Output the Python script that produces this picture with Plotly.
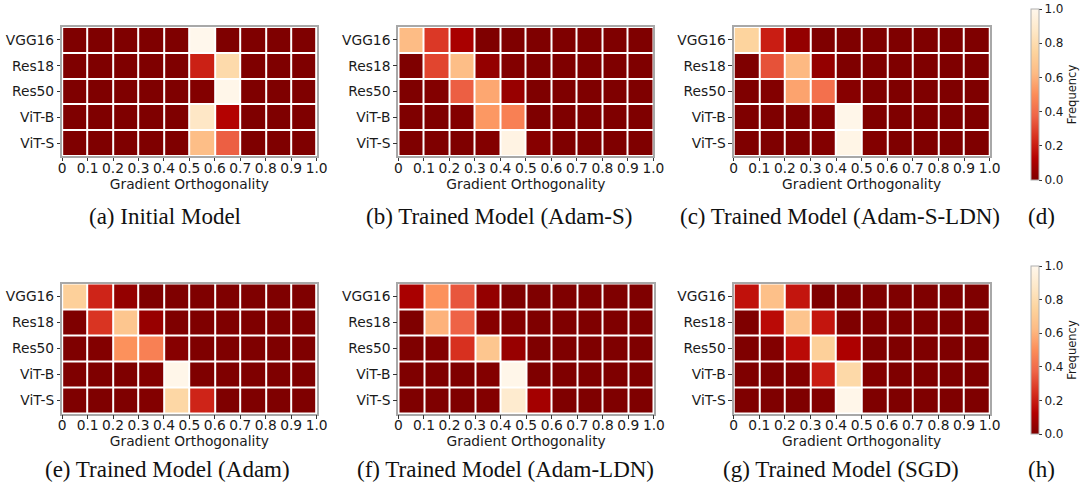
import plotly.graph_objects as go

W, H = 1081, 484

models = ["VGG16", "Res18", "Res50", "ViT-B", "ViT-S"]
bin_centers = [0.05, 0.15, 0.25, 0.35, 0.45, 0.55, 0.65, 0.75, 0.85, 0.95]
xtick_vals = [0, 0.1, 0.2, 0.3, 0.4, 0.5, 0.6, 0.7, 0.8, 0.9, 1.0]
xtick_text = ["0", "0.1", "0.2", "0.3", "0.4", "0.5", "0.6", "0.7", "0.8", "0.9", "1.0"]
cbar_vals = [0, 0.2, 0.4, 0.6, 0.8, 1.0]
cbar_text = ["0.0", "0.2", "0.4", "0.6", "0.8", "1.0"]

initial_model = [
    [0, 0, 0, 0, 0, 1.00, 0, 0, 0, 0],
    [0, 0, 0, 0, 0, 0.21, 0.79, 0, 0, 0],
    [0, 0, 0, 0, 0, 0.01, 0.99, 0, 0, 0],
    [0, 0, 0, 0, 0, 0.87, 0.13, 0, 0, 0],
    [0, 0, 0, 0, 0, 0.64, 0.36, 0, 0, 0],
]
adam_s = [
    [0.63, 0.27, 0.10, 0, 0, 0, 0, 0, 0, 0],
    [0, 0.30, 0.64, 0.05, 0.01, 0, 0, 0, 0, 0],
    [0, 0.01, 0.36, 0.57, 0.06, 0, 0, 0, 0, 0],
    [0, 0, 0.01, 0.53, 0.46, 0, 0, 0, 0, 0],
    [0, 0, 0, 0.01, 0.97, 0.02, 0, 0, 0, 0],
]
adam_s_ldn = [
    [0.75, 0.20, 0.05, 0, 0, 0, 0, 0, 0, 0],
    [0, 0.33, 0.62, 0.05, 0, 0, 0, 0, 0, 0],
    [0, 0.01, 0.56, 0.41, 0.02, 0, 0, 0, 0, 0],
    [0, 0, 0, 0.01, 0.99, 0, 0, 0, 0, 0],
    [0, 0, 0, 0.01, 0.98, 0.01, 0, 0, 0, 0],
]
adam = [
    [0.73, 0.22, 0.05, 0, 0, 0, 0, 0, 0, 0],
    [0, 0.26, 0.68, 0.06, 0, 0, 0, 0, 0, 0],
    [0, 0.01, 0.51, 0.46, 0.02, 0, 0, 0, 0, 0],
    [0, 0, 0, 0.01, 0.99, 0, 0, 0, 0, 0],
    [0, 0, 0, 0.01, 0.77, 0.22, 0, 0, 0, 0],
]
adam_ldn = [
    [0.10, 0.51, 0.34, 0.05, 0, 0, 0, 0, 0, 0],
    [0, 0.60, 0.37, 0.02, 0.01, 0, 0, 0, 0, 0],
    [0, 0.01, 0.25, 0.68, 0.06, 0, 0, 0, 0, 0],
    [0, 0, 0, 0.01, 0.99, 0, 0, 0, 0, 0],
    [0, 0, 0, 0.01, 0.90, 0.09, 0, 0, 0, 0],
]
sgd = [
    [0.17, 0.65, 0.18, 0, 0, 0, 0, 0, 0, 0],
    [0, 0.15, 0.67, 0.18, 0, 0, 0, 0, 0, 0],
    [0, 0.01, 0.15, 0.73, 0.11, 0, 0, 0, 0, 0],
    [0, 0, 0.01, 0.20, 0.78, 0.01, 0, 0, 0, 0],
    [0, 0, 0, 0.01, 0.99, 0, 0, 0, 0, 0],
]

captions = [
    "(a) Initial Model", "(b) Trained Model (Adam-S)", "(c) Trained Model (Adam-S-LDN)", "(d)",
    "(e) Trained Model (Adam)", "(f) Trained Model (Adam-LDN)", "(g) Trained Model (SGD)", "(h)",
]

orrd_r = [
    [0.0, "#7f0000"], [0.125, "#b30000"], [0.25, "#d7301f"], [0.375, "#ef6548"],
    [0.5, "#fc8d59"], [0.625, "#fdbb84"], [0.75, "#fdd49e"], [0.875, "#fee8c8"], [1.0, "#fff7ec"],
]

panels = [initial_model, adam_s, adam_s_ldn, adam, adam_ldn, sgd]

# pixel boxes (left, right, top, bottom)
boxes = [
    (59, 317, 27, 156), (400, 658.5, 27, 156), (740, 999.5, 27, 156),
    (59, 317, 283.5, 413.5), (400, 659, 283.5, 413.5), (740, 999.5, 283.5, 413.5),
]

fig = go.Figure()
tick_font = dict(family="DejaVu Sans", size=13.8, color="#1a1a1a")
for i, (z, box) in enumerate(zip(panels, boxes)):
    n = "" if i == 0 else str(i + 1)
    show = i in (2, 5)
    cb = None
    if show:
        top = 9 if i == 2 else 266
        bot = 180 if i == 2 else 434
        cb = dict(
            x=1041 / W, xanchor="left", xpad=0,
            y=1 - top / H, yanchor="top", len=(bot - top) / H, lenmode="fraction", ypad=0,
            thickness=8, outlinecolor="#b0b0b0", outlinewidth=1,
            tickvals=cbar_vals, ticktext=cbar_text, ticks="outside", ticklen=3,
            tickcolor="#333", tickfont=dict(family="DejaVu Sans", size=12, color="#1a1a1a"),
            title=dict(text="Frequency", side="right",
                       font=dict(family="DejaVu Sans", size=11.5, color="#1a1a1a")),
        )
    fig.add_trace(go.Heatmap(
        z=z, x=bin_centers, y=list(range(len(models))),
        zmin=0, zmax=1, colorscale=orrd_r, xgap=2, ygap=2,
        showscale=show, colorbar=cb,
        xaxis="x" + n, yaxis="y" + n,
    ))
    l, r, t, b = box
    fig.layout["xaxis" + n] = dict(
        domain=[l / W, r / W], anchor="y" + n, range=[0, 1],
        tickvals=xtick_vals, ticktext=xtick_text, tickangle=0,
        ticks="outside", ticklen=3.5, tickcolor="#333", tickfont=tick_font,
        ticklabelstandoff=-5,
        showline=True, mirror=True, linecolor="#a8a8a8", linewidth=1.5,
        showgrid=False, zeroline=False, fixedrange=True,
        title=dict(text="Gradient Orthogonality", standoff=2,
                   font=dict(family="DejaVu Sans", size=13.8, color="#1a1a1a")),
    )
    fig.layout["yaxis" + n] = dict(
        domain=[1 - b / H, 1 - t / H], anchor="x" + n, range=[4.5, -0.5],
        tickvals=list(range(len(models))), ticktext=models,
        ticks="outside", ticklen=3.5, tickcolor="#333", tickfont=tick_font,
        showline=True, mirror=True, linecolor="#a8a8a8", linewidth=1.5,
        showgrid=False, zeroline=False, fixedrange=True,
    )

cap_x = [163, 502, 848, 1052, 166, 509, 849, 1052]
cap_y = [216, 216, 216, 216, 469, 469, 469, 469]
for txt, cx, cy in zip(captions, cap_x, cap_y):
    fig.add_annotation(
        text=txt, x=cx / W, y=1 - cy / H, xref="paper", yref="paper",
        xanchor="center", yanchor="middle", showarrow=False,
        font=dict(family="Liberation Serif", size=23, color="#111111"),
    )

fig.update_layout(
    width=W, height=H, margin=dict(l=0, r=0, t=0, b=0),
    paper_bgcolor="white", plot_bgcolor="white", showlegend=False,
)

fig.write_html("out.html")
